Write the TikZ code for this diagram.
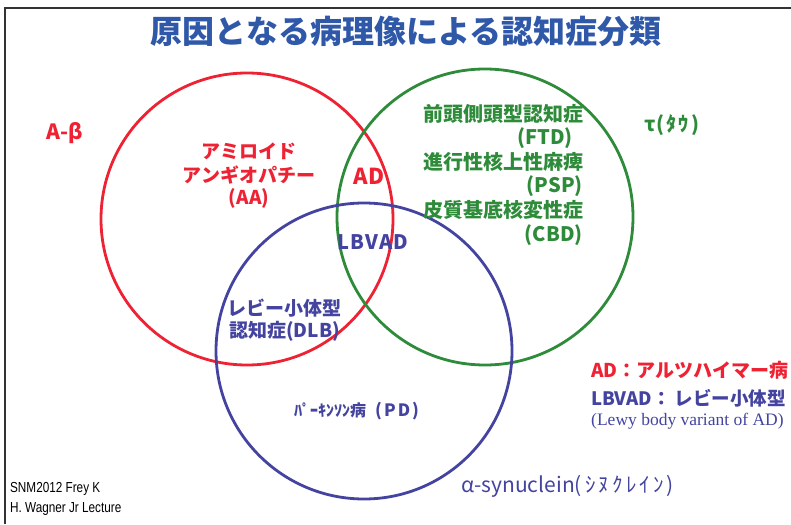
\documentclass[tikz,border=0pt]{standalone}
\usepackage{fontspec}
\setmainfont{Liberation Sans}
\newfontfamily\jp{Noto Sans CJK JP}
\newfontfamily\lserif{Liberation Serif}
\definecolor{cred}{HTML}{EE2233}
\definecolor{cgreen}{HTML}{2E8B3A}
\definecolor{cblue}{HTML}{4444A0}
\definecolor{ctitle}{HTML}{2F58A8}
\tikzset{
  ring/.style={line width=2.8pt},
  lab/.style={inner sep=0pt, font=\jp\bfseries\fontsize{19}{21}\selectfont},
  glab/.style={lab, text=cgreen, anchor=east, font=\jp\bfseries\fontsize{20}{22}\selectfont},
}
\begin{document}
\begin{tikzpicture}[x=1pt,y=-1pt]
\useasboundingbox[fill=white] (0,0) rectangle (791,524);
\draw[line width=1.2pt, black!80] (5,524) -- (5,8) -- (791,8);
% circles
\coordinate (cr) at (247,219);
\coordinate (cg) at (485,217);
\coordinate (cb) at (364,351);
\draw[ring, cred] (cr) circle[radius=146pt];
\draw[ring, cgreen] (cg) circle[radius=148pt];
\draw[ring, cblue] (cb) circle[radius=148pt];
% title
\node[inner sep=0pt, text=ctitle, font=\jp\bfseries\fontsize{32}{34}\selectfont] (title) at (406,31) {原因となる病理像による認知症分類};
% set labels
\node[lab, text=cred, font=\jp\bfseries\fontsize{21}{23}\selectfont] (ab) at (65,133) {A-β};
\node[lab, text=cgreen, font=\jp\bfseries\fontsize{20}{22}\selectfont] (tau) at (672,125) {τ\addfontfeature{LetterSpace=12}(ﾀｳ)};
\node[lab, text=cblue, font=\jp\fontsize{21}{23}\selectfont, anchor=west] (asyn) at (461,486) {α-synuclein\addfontfeature{LetterSpace=15}(ｼﾇｸﾚｲﾝ)};
% red region
\node[lab, text=cred] (aa1) at (249,151) {アミロイド};
\node[lab, text=cred] (aa2) at (249,175) {アンギオパチー};
\node[lab, text=cred] (aa3) at (249,198) {(AA)};
\node[lab, text=cred, font=\jp\bfseries\fontsize{22}{24}\selectfont] (ad) at (369,176) {AD};
\node[lab, text=cblue, font=\jp\bfseries\fontsize{20}{22}\selectfont\addfontfeature{LetterSpace=6}] (lbvad) at (373,242) {LBVAD};
% green region
\node[glab] (g1) at (584,114) {前頭側頭型認知症};
\node[glab] (g2) at (573,138) {(FTD)};
\node[glab] (g3) at (584,162) {進行性核上性麻痺};
\node[glab] (g4) at (583,186) {(PSP)};
\node[glab] (g5) at (584,210) {皮質基底核変性症};
\node[glab] (g6) at (583,235) {(CBD)};
% blue region
\node[lab, text=cblue, anchor=west] (dlb1) at (227,308) {レビー小体型};
\node[lab, text=cblue, anchor=west] (dlb2) at (229,331) {認知症(DLB)};
\node[lab, text=cblue, font=\jp\bfseries\fontsize{16}{18}\selectfont, anchor=west] (pd) at (294,411) {ﾊﾟｰｷﾝｿﾝ病\hspace{9pt}{\fontsize{17}{18}\selectfont\addfontfeature{LetterSpace=12}(PD)}};
% legend
\node[lab, text=cred, anchor=west, font=\jp\bfseries\fontsize{19}{21}\selectfont] (leg1) at (591,370) {AD：アルツハイマー病};
\node[lab, text=cblue, anchor=west, font=\jp\bfseries\fontsize{18.5}{21}\selectfont] (leg2) at (591,398) {LBVAD： レビー小体型};
\node[inner sep=0pt, text=cblue, anchor=west, font=\lserif\fontsize{17.5}{19}\selectfont] (leg3) at (591,421) {(Lewy body variant of AD)};
% source
\node[inner sep=0pt, anchor=west, xscale=0.81, font=\fontsize{14.5}{16}\selectfont] (src1) at (10,489) {SNM2012 Frey K};
\node[inner sep=0pt, anchor=west, xscale=0.81, font=\fontsize{14.5}{16}\selectfont] (src2) at (10,509) {H. Wagner Jr Lecture};
\end{tikzpicture}
\end{document}
